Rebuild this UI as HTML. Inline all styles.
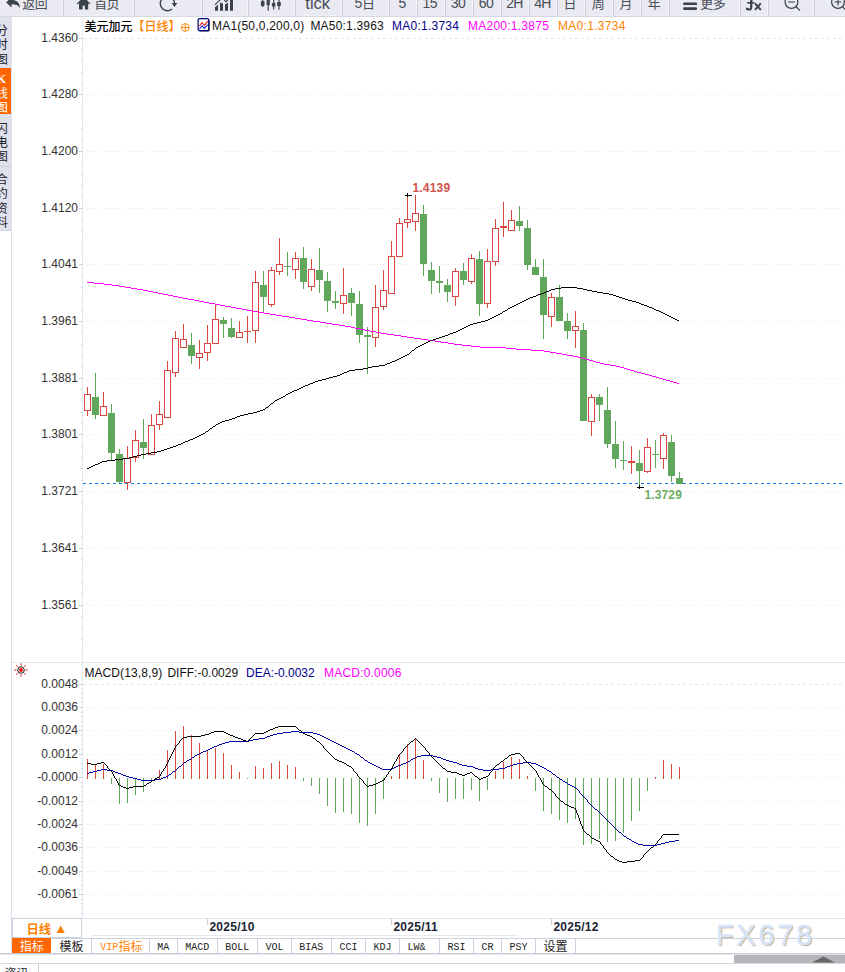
<!DOCTYPE html><html><head><meta charset="utf-8"><title>USDCAD</title><style>
html,body{margin:0;padding:0;background:#fff;}
body{width:845px;height:972px;overflow:hidden;position:relative;font-family:"Liberation Sans",sans-serif;}
.t{position:absolute;white-space:nowrap;line-height:16px;height:16px;}
svg{position:absolute;left:0;top:0;}
svg text{font-family:"Liberation Sans","Noto Sans CJK SC",sans-serif;}
</style></head><body>
<svg width="845" height="972" viewBox="0 0 845 972" shape-rendering="crispEdges"><rect x="0" y="17" width="12" height="213" fill="#E0E2EB"/><rect x="0" y="68" width="11" height="46" fill="#FF6600"/><rect x="11" y="68" width="1" height="47" fill="#D6E3F1"/><rect x="0" y="114" width="11" height="1" fill="#D6E3F1"/><line x1="0" y1="166.5" x2="12" y2="166.5" stroke="#D0D5E0"/><line x1="11.5" y1="230" x2="11.5" y2="954" stroke="#D9DEE8"/><line x1="0" y1="230.5" x2="12" y2="230.5" stroke="#D0D5E0"/><line x1="82.5" y1="16" x2="82.5" y2="919" stroke="#E3E8EF"/><line x1="12" y1="662.5" x2="845" y2="662.5" stroke="#E3EAF2"/><line x1="12" y1="918.5" x2="845" y2="918.5" stroke="#DDE3EC"/><line x1="83" y1="38.5" x2="845" y2="38.5" stroke="#E1EAF0" stroke-dasharray="3 3"/><line x1="79" y1="38.5" x2="82" y2="38.5" stroke="#C9D0DA"/><rect x="81" y="49" width="1" height="1" fill="#C9D0DA"/><rect x="81" y="60" width="1" height="1" fill="#C9D0DA"/><rect x="81" y="72" width="1" height="1" fill="#C9D0DA"/><rect x="81" y="83" width="1" height="1" fill="#C9D0DA"/><line x1="83" y1="94.5" x2="845" y2="94.5" stroke="#E9EBEF" stroke-dasharray="1 2"/><line x1="79" y1="94.5" x2="82" y2="94.5" stroke="#C9D0DA"/><rect x="81" y="106" width="1" height="1" fill="#C9D0DA"/><rect x="81" y="117" width="1" height="1" fill="#C9D0DA"/><rect x="81" y="128" width="1" height="1" fill="#C9D0DA"/><rect x="81" y="140" width="1" height="1" fill="#C9D0DA"/><line x1="83" y1="151.5" x2="845" y2="151.5" stroke="#E9EBEF" stroke-dasharray="1 2"/><line x1="79" y1="151.5" x2="82" y2="151.5" stroke="#C9D0DA"/><rect x="81" y="162" width="1" height="1" fill="#C9D0DA"/><rect x="81" y="174" width="1" height="1" fill="#C9D0DA"/><rect x="81" y="185" width="1" height="1" fill="#C9D0DA"/><rect x="81" y="196" width="1" height="1" fill="#C9D0DA"/><line x1="83" y1="208.5" x2="845" y2="208.5" stroke="#E9EBEF" stroke-dasharray="1 2"/><line x1="79" y1="208.5" x2="82" y2="208.5" stroke="#C9D0DA"/><rect x="81" y="219" width="1" height="1" fill="#C9D0DA"/><rect x="81" y="230" width="1" height="1" fill="#C9D0DA"/><rect x="81" y="242" width="1" height="1" fill="#C9D0DA"/><rect x="81" y="253" width="1" height="1" fill="#C9D0DA"/><line x1="83" y1="264.5" x2="845" y2="264.5" stroke="#E9EBEF" stroke-dasharray="1 2"/><line x1="79" y1="264.5" x2="82" y2="264.5" stroke="#C9D0DA"/><rect x="81" y="276" width="1" height="1" fill="#C9D0DA"/><rect x="81" y="287" width="1" height="1" fill="#C9D0DA"/><rect x="81" y="298" width="1" height="1" fill="#C9D0DA"/><rect x="81" y="310" width="1" height="1" fill="#C9D0DA"/><line x1="83" y1="321.5" x2="845" y2="321.5" stroke="#E9EBEF" stroke-dasharray="1 2"/><line x1="79" y1="321.5" x2="82" y2="321.5" stroke="#C9D0DA"/><rect x="81" y="332" width="1" height="1" fill="#C9D0DA"/><rect x="81" y="344" width="1" height="1" fill="#C9D0DA"/><rect x="81" y="355" width="1" height="1" fill="#C9D0DA"/><rect x="81" y="366" width="1" height="1" fill="#C9D0DA"/><line x1="83" y1="378.5" x2="845" y2="378.5" stroke="#E9EBEF" stroke-dasharray="1 2"/><line x1="79" y1="378.5" x2="82" y2="378.5" stroke="#C9D0DA"/><rect x="81" y="389" width="1" height="1" fill="#C9D0DA"/><rect x="81" y="400" width="1" height="1" fill="#C9D0DA"/><rect x="81" y="412" width="1" height="1" fill="#C9D0DA"/><rect x="81" y="423" width="1" height="1" fill="#C9D0DA"/><line x1="83" y1="434.5" x2="845" y2="434.5" stroke="#E9EBEF" stroke-dasharray="1 2"/><line x1="79" y1="434.5" x2="82" y2="434.5" stroke="#C9D0DA"/><rect x="81" y="446" width="1" height="1" fill="#C9D0DA"/><rect x="81" y="457" width="1" height="1" fill="#C9D0DA"/><rect x="81" y="468" width="1" height="1" fill="#C9D0DA"/><rect x="81" y="480" width="1" height="1" fill="#C9D0DA"/><line x1="83" y1="491.5" x2="845" y2="491.5" stroke="#E9EBEF" stroke-dasharray="1 2"/><line x1="79" y1="491.5" x2="82" y2="491.5" stroke="#C9D0DA"/><rect x="81" y="502" width="1" height="1" fill="#C9D0DA"/><rect x="81" y="514" width="1" height="1" fill="#C9D0DA"/><rect x="81" y="525" width="1" height="1" fill="#C9D0DA"/><rect x="81" y="536" width="1" height="1" fill="#C9D0DA"/><line x1="83" y1="548.5" x2="845" y2="548.5" stroke="#E9EBEF" stroke-dasharray="1 2"/><line x1="79" y1="548.5" x2="82" y2="548.5" stroke="#C9D0DA"/><rect x="81" y="559" width="1" height="1" fill="#C9D0DA"/><rect x="81" y="570" width="1" height="1" fill="#C9D0DA"/><rect x="81" y="582" width="1" height="1" fill="#C9D0DA"/><rect x="81" y="593" width="1" height="1" fill="#C9D0DA"/><line x1="83" y1="605.5" x2="845" y2="605.5" stroke="#E9EBEF" stroke-dasharray="1 2"/><line x1="79" y1="605.5" x2="82" y2="605.5" stroke="#C9D0DA"/><rect x="81" y="616" width="1" height="1" fill="#C9D0DA"/><rect x="81" y="627" width="1" height="1" fill="#C9D0DA"/><rect x="81" y="639" width="1" height="1" fill="#C9D0DA"/><rect x="81" y="650" width="1" height="1" fill="#C9D0DA"/><line x1="83" y1="684.5" x2="845" y2="684.5" stroke="#E1EAF0" stroke-dasharray="3 3"/><line x1="79" y1="684.5" x2="82" y2="684.5" stroke="#C9D0DA"/><rect x="81" y="688" width="1" height="1" fill="#C9D0DA"/><rect x="81" y="693" width="1" height="1" fill="#C9D0DA"/><rect x="81" y="698" width="1" height="1" fill="#C9D0DA"/><rect x="81" y="702" width="1" height="1" fill="#C9D0DA"/><line x1="83" y1="707.5" x2="845" y2="707.5" stroke="#E9EBEF" stroke-dasharray="1 2"/><line x1="79" y1="707.5" x2="82" y2="707.5" stroke="#C9D0DA"/><rect x="81" y="712" width="1" height="1" fill="#C9D0DA"/><rect x="81" y="716" width="1" height="1" fill="#C9D0DA"/><rect x="81" y="721" width="1" height="1" fill="#C9D0DA"/><rect x="81" y="726" width="1" height="1" fill="#C9D0DA"/><line x1="83" y1="730.5" x2="845" y2="730.5" stroke="#E9EBEF" stroke-dasharray="1 2"/><line x1="79" y1="730.5" x2="82" y2="730.5" stroke="#C9D0DA"/><rect x="81" y="735" width="1" height="1" fill="#C9D0DA"/><rect x="81" y="740" width="1" height="1" fill="#C9D0DA"/><rect x="81" y="744" width="1" height="1" fill="#C9D0DA"/><rect x="81" y="749" width="1" height="1" fill="#C9D0DA"/><line x1="83" y1="754.5" x2="845" y2="754.5" stroke="#E9EBEF" stroke-dasharray="1 2"/><line x1="79" y1="754.5" x2="82" y2="754.5" stroke="#C9D0DA"/><rect x="81" y="758" width="1" height="1" fill="#C9D0DA"/><rect x="81" y="763" width="1" height="1" fill="#C9D0DA"/><rect x="81" y="768" width="1" height="1" fill="#C9D0DA"/><rect x="81" y="772" width="1" height="1" fill="#C9D0DA"/><line x1="83" y1="777.5" x2="845" y2="777.5" stroke="#E9EBEF" stroke-dasharray="1 2"/><line x1="79" y1="777.5" x2="82" y2="777.5" stroke="#C9D0DA"/><rect x="81" y="782" width="1" height="1" fill="#C9D0DA"/><rect x="81" y="786" width="1" height="1" fill="#C9D0DA"/><rect x="81" y="791" width="1" height="1" fill="#C9D0DA"/><rect x="81" y="796" width="1" height="1" fill="#C9D0DA"/><line x1="83" y1="801.5" x2="845" y2="801.5" stroke="#E9EBEF" stroke-dasharray="1 2"/><line x1="79" y1="801.5" x2="82" y2="801.5" stroke="#C9D0DA"/><rect x="81" y="805" width="1" height="1" fill="#C9D0DA"/><rect x="81" y="810" width="1" height="1" fill="#C9D0DA"/><rect x="81" y="815" width="1" height="1" fill="#C9D0DA"/><rect x="81" y="819" width="1" height="1" fill="#C9D0DA"/><line x1="83" y1="824.5" x2="845" y2="824.5" stroke="#E9EBEF" stroke-dasharray="1 2"/><line x1="79" y1="824.5" x2="82" y2="824.5" stroke="#C9D0DA"/><rect x="81" y="829" width="1" height="1" fill="#C9D0DA"/><rect x="81" y="833" width="1" height="1" fill="#C9D0DA"/><rect x="81" y="838" width="1" height="1" fill="#C9D0DA"/><rect x="81" y="843" width="1" height="1" fill="#C9D0DA"/><line x1="83" y1="847.5" x2="845" y2="847.5" stroke="#E9EBEF" stroke-dasharray="1 2"/><line x1="79" y1="847.5" x2="82" y2="847.5" stroke="#C9D0DA"/><rect x="81" y="852" width="1" height="1" fill="#C9D0DA"/><rect x="81" y="857" width="1" height="1" fill="#C9D0DA"/><rect x="81" y="861" width="1" height="1" fill="#C9D0DA"/><rect x="81" y="866" width="1" height="1" fill="#C9D0DA"/><line x1="83" y1="871.5" x2="845" y2="871.5" stroke="#E9EBEF" stroke-dasharray="1 2"/><line x1="79" y1="871.5" x2="82" y2="871.5" stroke="#C9D0DA"/><rect x="81" y="875" width="1" height="1" fill="#C9D0DA"/><rect x="81" y="880" width="1" height="1" fill="#C9D0DA"/><rect x="81" y="885" width="1" height="1" fill="#C9D0DA"/><rect x="81" y="889" width="1" height="1" fill="#C9D0DA"/><line x1="83" y1="894.5" x2="845" y2="894.5" stroke="#E9EBEF" stroke-dasharray="1 2"/><line x1="79" y1="894.5" x2="82" y2="894.5" stroke="#C9D0DA"/><rect x="81" y="899" width="1" height="1" fill="#C9D0DA"/><rect x="81" y="903" width="1" height="1" fill="#C9D0DA"/><rect x="81" y="908" width="1" height="1" fill="#C9D0DA"/><rect x="81" y="913" width="1" height="1" fill="#C9D0DA"/><line x1="83" y1="483.5" x2="845" y2="483.5" stroke="#1080F0" stroke-dasharray="3 3"/><rect x="87" y="387" width="1" height="7" fill="#D9483E"/><rect x="87" y="411" width="1" height="5" fill="#D9483E"/><rect x="84" y="394" width="7" height="17" fill="#D9483E"/><rect x="85" y="395" width="5" height="15" fill="#fff"/><rect x="95" y="373" width="1" height="46" fill="#60A75C"/><rect x="92" y="397" width="7" height="18" fill="#60A75C"/><rect x="103" y="392" width="1" height="14" fill="#D9483E"/><rect x="100" y="406" width="7" height="10" fill="#D9483E"/><rect x="101" y="407" width="5" height="8" fill="#fff"/><rect x="111" y="404" width="1" height="56" fill="#60A75C"/><rect x="108" y="413" width="7" height="40" fill="#60A75C"/><rect x="119" y="449" width="1" height="34" fill="#60A75C"/><rect x="116" y="454" width="7" height="28" fill="#60A75C"/><rect x="127" y="446" width="1" height="12" fill="#D9483E"/><rect x="127" y="483" width="1" height="7" fill="#D9483E"/><rect x="124" y="458" width="7" height="25" fill="#D9483E"/><rect x="125" y="459" width="5" height="23" fill="#fff"/><rect x="135" y="430" width="1" height="10" fill="#D9483E"/><rect x="135" y="458" width="1" height="4" fill="#D9483E"/><rect x="132" y="440" width="7" height="18" fill="#D9483E"/><rect x="133" y="441" width="5" height="16" fill="#fff"/><rect x="143" y="419" width="1" height="40" fill="#60A75C"/><rect x="140" y="442" width="7" height="6" fill="#60A75C"/><rect x="151" y="414" width="1" height="11" fill="#D9483E"/><rect x="148" y="425" width="7" height="30" fill="#D9483E"/><rect x="149" y="426" width="5" height="28" fill="#fff"/><rect x="159" y="401" width="1" height="13" fill="#D9483E"/><rect x="159" y="425" width="1" height="5" fill="#D9483E"/><rect x="156" y="414" width="7" height="11" fill="#D9483E"/><rect x="157" y="415" width="5" height="9" fill="#fff"/><rect x="167" y="361" width="1" height="9" fill="#D9483E"/><rect x="164" y="370" width="7" height="48" fill="#D9483E"/><rect x="165" y="371" width="5" height="46" fill="#fff"/><rect x="175" y="331" width="1" height="7" fill="#D9483E"/><rect x="175" y="373" width="1" height="4" fill="#D9483E"/><rect x="172" y="338" width="7" height="35" fill="#D9483E"/><rect x="173" y="339" width="5" height="33" fill="#fff"/><rect x="183" y="324" width="1" height="15" fill="#D9483E"/><rect x="180" y="339" width="7" height="9" fill="#D9483E"/><rect x="181" y="340" width="5" height="7" fill="#fff"/><rect x="191" y="333" width="1" height="31" fill="#60A75C"/><rect x="188" y="345" width="7" height="11" fill="#60A75C"/><rect x="199" y="340" width="1" height="13" fill="#D9483E"/><rect x="199" y="358" width="1" height="11" fill="#D9483E"/><rect x="196" y="353" width="7" height="5" fill="#D9483E"/><rect x="197" y="354" width="5" height="3" fill="#fff"/><rect x="207" y="325" width="1" height="18" fill="#D9483E"/><rect x="207" y="353" width="1" height="8" fill="#D9483E"/><rect x="204" y="343" width="7" height="10" fill="#D9483E"/><rect x="205" y="344" width="5" height="8" fill="#fff"/><rect x="215" y="305" width="1" height="14" fill="#D9483E"/><rect x="212" y="319" width="7" height="25" fill="#D9483E"/><rect x="213" y="320" width="5" height="23" fill="#fff"/><rect x="223" y="317" width="1" height="21" fill="#60A75C"/><rect x="220" y="320" width="7" height="4" fill="#60A75C"/><rect x="231" y="318" width="1" height="20" fill="#60A75C"/><rect x="228" y="328" width="7" height="9" fill="#60A75C"/><rect x="239" y="321" width="1" height="11" fill="#D9483E"/><rect x="236" y="332" width="7" height="6" fill="#D9483E"/><rect x="237" y="333" width="5" height="4" fill="#fff"/><rect x="247" y="316" width="1" height="27" fill="#D9483E"/><rect x="244" y="331" width="7" height="1" fill="#D9483E"/><rect x="255" y="271" width="1" height="11" fill="#D9483E"/><rect x="255" y="331" width="1" height="12" fill="#D9483E"/><rect x="252" y="282" width="7" height="49" fill="#D9483E"/><rect x="253" y="283" width="5" height="47" fill="#fff"/><rect x="263" y="271" width="1" height="41" fill="#60A75C"/><rect x="260" y="285" width="7" height="12" fill="#60A75C"/><rect x="271" y="267" width="1" height="3" fill="#D9483E"/><rect x="271" y="305" width="1" height="2" fill="#D9483E"/><rect x="268" y="270" width="7" height="35" fill="#D9483E"/><rect x="269" y="271" width="5" height="33" fill="#fff"/><rect x="279" y="238" width="1" height="26" fill="#D9483E"/><rect x="279" y="272" width="1" height="3" fill="#D9483E"/><rect x="276" y="264" width="7" height="8" fill="#D9483E"/><rect x="277" y="265" width="5" height="6" fill="#fff"/><rect x="287" y="252" width="1" height="24" fill="#60A75C"/><rect x="284" y="266" width="7" height="1" fill="#60A75C"/><rect x="295" y="252" width="1" height="6" fill="#D9483E"/><rect x="295" y="270" width="1" height="9" fill="#D9483E"/><rect x="292" y="258" width="7" height="12" fill="#D9483E"/><rect x="293" y="259" width="5" height="10" fill="#fff"/><rect x="303" y="247" width="1" height="42" fill="#60A75C"/><rect x="300" y="258" width="7" height="24" fill="#60A75C"/><rect x="311" y="259" width="1" height="10" fill="#D9483E"/><rect x="311" y="287" width="1" height="4" fill="#D9483E"/><rect x="308" y="269" width="7" height="18" fill="#D9483E"/><rect x="309" y="270" width="5" height="16" fill="#fff"/><rect x="319" y="248" width="1" height="45" fill="#60A75C"/><rect x="316" y="270" width="7" height="10" fill="#60A75C"/><rect x="327" y="272" width="1" height="40" fill="#60A75C"/><rect x="324" y="281" width="7" height="20" fill="#60A75C"/><rect x="335" y="291" width="1" height="18" fill="#60A75C"/><rect x="332" y="301" width="7" height="2" fill="#60A75C"/><rect x="343" y="268" width="1" height="27" fill="#D9483E"/><rect x="343" y="304" width="1" height="10" fill="#D9483E"/><rect x="340" y="295" width="7" height="9" fill="#D9483E"/><rect x="341" y="296" width="5" height="7" fill="#fff"/><rect x="351" y="288" width="1" height="28" fill="#60A75C"/><rect x="348" y="293" width="7" height="10" fill="#60A75C"/><rect x="359" y="291" width="1" height="52" fill="#60A75C"/><rect x="356" y="304" width="7" height="31" fill="#60A75C"/><rect x="367" y="327" width="1" height="47" fill="#60A75C"/><rect x="364" y="335" width="7" height="2" fill="#60A75C"/><rect x="375" y="285" width="1" height="22" fill="#D9483E"/><rect x="375" y="338" width="1" height="9" fill="#D9483E"/><rect x="372" y="307" width="7" height="31" fill="#D9483E"/><rect x="373" y="308" width="5" height="29" fill="#fff"/><rect x="383" y="270" width="1" height="20" fill="#D9483E"/><rect x="383" y="307" width="1" height="3" fill="#D9483E"/><rect x="380" y="290" width="7" height="17" fill="#D9483E"/><rect x="381" y="291" width="5" height="15" fill="#fff"/><rect x="391" y="241" width="1" height="15" fill="#D9483E"/><rect x="388" y="256" width="7" height="38" fill="#D9483E"/><rect x="389" y="257" width="5" height="36" fill="#fff"/><rect x="399" y="218" width="1" height="5" fill="#D9483E"/><rect x="396" y="223" width="7" height="34" fill="#D9483E"/><rect x="397" y="224" width="5" height="32" fill="#fff"/><rect x="407" y="195" width="1" height="24" fill="#D9483E"/><rect x="407" y="223" width="1" height="5" fill="#D9483E"/><rect x="404" y="219" width="7" height="4" fill="#D9483E"/><rect x="405" y="220" width="5" height="2" fill="#fff"/><rect x="415" y="195" width="1" height="18" fill="#D9483E"/><rect x="415" y="222" width="1" height="9" fill="#D9483E"/><rect x="412" y="213" width="7" height="9" fill="#D9483E"/><rect x="413" y="214" width="5" height="7" fill="#fff"/><rect x="423" y="205" width="1" height="71" fill="#60A75C"/><rect x="420" y="214" width="7" height="50" fill="#60A75C"/><rect x="431" y="262" width="1" height="32" fill="#60A75C"/><rect x="428" y="270" width="7" height="11" fill="#60A75C"/><rect x="439" y="266" width="1" height="27" fill="#60A75C"/><rect x="436" y="281" width="7" height="2" fill="#60A75C"/><rect x="447" y="279" width="1" height="23" fill="#60A75C"/><rect x="444" y="285" width="7" height="7" fill="#60A75C"/><rect x="455" y="268" width="1" height="3" fill="#D9483E"/><rect x="455" y="297" width="1" height="9" fill="#D9483E"/><rect x="452" y="271" width="7" height="26" fill="#D9483E"/><rect x="453" y="272" width="5" height="24" fill="#fff"/><rect x="463" y="263" width="1" height="22" fill="#60A75C"/><rect x="460" y="271" width="7" height="9" fill="#60A75C"/><rect x="471" y="254" width="1" height="4" fill="#D9483E"/><rect x="471" y="282" width="1" height="2" fill="#D9483E"/><rect x="468" y="258" width="7" height="24" fill="#D9483E"/><rect x="469" y="259" width="5" height="22" fill="#fff"/><rect x="479" y="251" width="1" height="65" fill="#60A75C"/><rect x="476" y="259" width="7" height="45" fill="#60A75C"/><rect x="487" y="249" width="1" height="12" fill="#D9483E"/><rect x="487" y="304" width="1" height="4" fill="#D9483E"/><rect x="484" y="261" width="7" height="43" fill="#D9483E"/><rect x="485" y="262" width="5" height="41" fill="#fff"/><rect x="495" y="219" width="1" height="9" fill="#D9483E"/><rect x="495" y="262" width="1" height="4" fill="#D9483E"/><rect x="492" y="228" width="7" height="34" fill="#D9483E"/><rect x="493" y="229" width="5" height="32" fill="#fff"/><rect x="503" y="202" width="1" height="35" fill="#D9483E"/><rect x="500" y="226" width="7" height="2" fill="#D9483E"/><rect x="511" y="210" width="1" height="10" fill="#D9483E"/><rect x="508" y="220" width="7" height="11" fill="#D9483E"/><rect x="509" y="221" width="5" height="9" fill="#fff"/><rect x="519" y="206" width="1" height="25" fill="#60A75C"/><rect x="516" y="221" width="7" height="5" fill="#60A75C"/><rect x="527" y="220" width="1" height="50" fill="#60A75C"/><rect x="524" y="228" width="7" height="37" fill="#60A75C"/><rect x="535" y="259" width="1" height="16" fill="#60A75C"/><rect x="532" y="267" width="7" height="8" fill="#60A75C"/><rect x="543" y="259" width="1" height="80" fill="#60A75C"/><rect x="540" y="277" width="7" height="38" fill="#60A75C"/><rect x="551" y="293" width="1" height="4" fill="#D9483E"/><rect x="551" y="317" width="1" height="10" fill="#D9483E"/><rect x="548" y="297" width="7" height="20" fill="#D9483E"/><rect x="549" y="298" width="5" height="18" fill="#fff"/><rect x="559" y="285" width="1" height="36" fill="#60A75C"/><rect x="556" y="297" width="7" height="24" fill="#60A75C"/><rect x="567" y="313" width="1" height="26" fill="#60A75C"/><rect x="564" y="321" width="7" height="10" fill="#60A75C"/><rect x="575" y="311" width="1" height="15" fill="#D9483E"/><rect x="575" y="331" width="1" height="17" fill="#D9483E"/><rect x="572" y="326" width="7" height="5" fill="#D9483E"/><rect x="573" y="327" width="5" height="3" fill="#fff"/><rect x="583" y="323" width="1" height="98" fill="#60A75C"/><rect x="580" y="330" width="7" height="91" fill="#60A75C"/><rect x="591" y="394" width="1" height="3" fill="#D9483E"/><rect x="591" y="422" width="1" height="14" fill="#D9483E"/><rect x="588" y="397" width="7" height="25" fill="#D9483E"/><rect x="589" y="398" width="5" height="23" fill="#fff"/><rect x="599" y="394" width="1" height="27" fill="#60A75C"/><rect x="596" y="397" width="7" height="8" fill="#60A75C"/><rect x="607" y="387" width="1" height="61" fill="#60A75C"/><rect x="604" y="410" width="7" height="34" fill="#60A75C"/><rect x="615" y="421" width="1" height="47" fill="#60A75C"/><rect x="612" y="444" width="7" height="15" fill="#60A75C"/><rect x="623" y="441" width="1" height="29" fill="#60A75C"/><rect x="620" y="460" width="7" height="1" fill="#60A75C"/><rect x="631" y="446" width="1" height="28" fill="#D9483E"/><rect x="628" y="461" width="7" height="2" fill="#D9483E"/><rect x="639" y="450" width="1" height="37" fill="#60A75C"/><rect x="636" y="463" width="7" height="8" fill="#60A75C"/><rect x="647" y="438" width="1" height="9" fill="#D9483E"/><rect x="647" y="472" width="1" height="1" fill="#D9483E"/><rect x="644" y="447" width="7" height="25" fill="#D9483E"/><rect x="645" y="448" width="5" height="23" fill="#fff"/><rect x="655" y="440" width="1" height="28" fill="#60A75C"/><rect x="652" y="454" width="7" height="1" fill="#60A75C"/><rect x="663" y="433" width="1" height="2" fill="#D9483E"/><rect x="663" y="459" width="1" height="10" fill="#D9483E"/><rect x="660" y="435" width="7" height="24" fill="#D9483E"/><rect x="661" y="436" width="5" height="22" fill="#fff"/><rect x="671" y="435" width="1" height="47" fill="#60A75C"/><rect x="668" y="442" width="7" height="34" fill="#60A75C"/><rect x="679" y="472" width="1" height="12" fill="#60A75C"/><rect x="676" y="478" width="7" height="6" fill="#60A75C"/><path d="M87 282h7v1h-7zM94 283h10v1h-10zM104 284h8v1h-8zM112 285h7v1h-7zM119 286h6v1h-6zM125 287h6v1h-6zM131 288h6v1h-6zM137 289h6v1h-6zM143 290h5v1h-5zM148 291h5v1h-5zM153 292h5v1h-5zM158 293h5v1h-5zM163 294h5v1h-5zM168 295h5v1h-5zM173 296h5v1h-5zM178 297h5v1h-5zM183 298h5v1h-5zM188 299h6v1h-6zM194 300h5v1h-5zM199 301h5v1h-5zM204 302h5v1h-5zM209 303h6v1h-6zM215 304h5v1h-5zM220 305h5v1h-5zM225 306h6v1h-6zM231 307h5v1h-5zM236 308h6v1h-6zM242 309h5v1h-5zM247 310h6v1h-6zM253 311h5v1h-5zM258 312h6v1h-6zM264 313h6v1h-6zM270 314h6v1h-6zM276 315h6v1h-6zM282 316h7v1h-7zM289 317h6v1h-6zM295 318h6v1h-6zM301 319h6v1h-6zM307 320h6v1h-6zM313 321h7v1h-7zM320 322h6v1h-6zM326 323h6v1h-6zM332 324h7v1h-7zM339 325h6v1h-6zM345 326h6v1h-6zM351 327h4v1h-4zM355 328h5v1h-5zM360 329h5v1h-5zM365 330h5v1h-5zM370 331h6v1h-6zM376 332h5v1h-5zM381 333h6v1h-6zM387 334h7v1h-7zM394 335h7v1h-7zM401 336h6v1h-6zM407 337h7v1h-7zM414 338h7v1h-7zM421 339h7v1h-7zM428 340h7v1h-7zM435 341h6v1h-6zM441 342h7v1h-7zM448 343h6v1h-6zM454 344h8v1h-8zM462 345h9v1h-9zM471 346h9v1h-9zM480 347h26v1h-26zM506 348h10v1h-10zM516 349h15v1h-15zM531 350h13v1h-13zM544 351h6v1h-6zM550 352h6v1h-6zM556 353h6v1h-6zM562 354h5v1h-5zM567 355h6v1h-6zM573 356h5v1h-5zM578 357h4v1h-4zM582 358h4v1h-4zM586 359h3v1h-3zM589 360h4v1h-4zM593 361h3v1h-3zM596 362h4v1h-4zM600 363h4v1h-4zM604 364h6v1h-6zM610 365h6v1h-6zM616 366h4v1h-4zM620 367h4v1h-4zM624 368h3v1h-3zM627 369h3v1h-3zM630 370h4v1h-4zM634 371h3v1h-3zM637 372h4v1h-4zM641 373h4v1h-4zM645 374h4v1h-4zM649 375h3v1h-3zM652 376h4v1h-4zM656 377h3v1h-3zM659 378h4v1h-4zM663 379h3v1h-3zM666 380h4v1h-4zM670 381h3v1h-3zM673 382h4v1h-4zM677 383h2v1h-2z" fill="#FF00FF"/><path d="M561 287h16v1h-16zM555 288h6v1h-6zM577 288h6v1h-6zM551 289h4v1h-4zM583 289h4v1h-4zM549 290h2v1h-2zM587 290h5v1h-5zM546 291h3v1h-3zM592 291h5v1h-5zM544 292h2v1h-2zM597 292h6v1h-6zM541 293h3v1h-3zM603 293h6v1h-6zM538 294h3v1h-3zM609 294h4v1h-4zM536 295h2v1h-2zM613 295h3v1h-3zM533 296h3v1h-3zM616 296h3v1h-3zM530 297h3v1h-3zM619 297h3v1h-3zM528 298h2v1h-2zM622 298h3v1h-3zM526 299h2v1h-2zM625 299h3v1h-3zM524 300h2v1h-2zM628 300h4v1h-4zM522 301h2v1h-2zM632 301h4v1h-4zM520 302h2v1h-2zM636 302h3v1h-3zM518 303h2v1h-2zM639 303h2v1h-2zM516 304h2v1h-2zM641 304h3v1h-3zM514 305h2v1h-2zM644 305h3v1h-3zM512 306h2v1h-2zM647 306h2v1h-2zM510 307h2v1h-2zM649 307h3v1h-3zM508 308h2v1h-2zM652 308h2v1h-2zM507 309h1v1h-1zM654 309h2v1h-2zM505 310h2v1h-2zM656 310h3v1h-3zM503 311h2v1h-2zM659 311h2v1h-2zM502 312h1v1h-1zM661 312h2v1h-2zM500 313h2v1h-2zM663 313h2v1h-2zM498 314h2v1h-2zM665 314h2v1h-2zM496 315h2v1h-2zM667 315h2v1h-2zM494 316h2v1h-2zM669 316h2v1h-2zM492 317h2v1h-2zM671 317h2v1h-2zM490 318h2v1h-2zM673 318h2v1h-2zM488 319h2v1h-2zM675 319h2v1h-2zM485 320h3v1h-3zM677 320h2v1h-2zM481 321h4v1h-4zM477 322h4v1h-4zM473 323h4v1h-4zM470 324h3v1h-3zM468 325h2v1h-2zM466 326h2v1h-2zM464 327h2v1h-2zM462 328h2v1h-2zM460 329h2v1h-2zM458 330h2v1h-2zM456 331h2v1h-2zM453 332h3v1h-3zM450 333h3v1h-3zM448 334h2v1h-2zM445 335h3v1h-3zM442 336h3v1h-3zM439 337h3v1h-3zM436 338h3v1h-3zM433 339h3v1h-3zM430 340h3v1h-3zM428 341h2v1h-2zM426 342h2v1h-2zM424 343h2v1h-2zM422 344h2v1h-2zM420 345h2v1h-2zM418 346h2v1h-2zM416 347h2v1h-2zM415 348h1v1h-1zM414 349h1v1h-1zM412 350h2v1h-2zM411 351h1v1h-1zM410 352h1v1h-1zM409 353h1v1h-1zM407 354h2v1h-2zM405 355h2v1h-2zM403 356h2v1h-2zM401 357h2v1h-2zM399 358h2v1h-2zM397 359h2v1h-2zM395 360h2v1h-2zM392 361h3v1h-3zM390 362h2v1h-2zM387 363h3v1h-3zM385 364h2v1h-2zM379 365h6v1h-6zM372 366h7v1h-7zM368 367h4v1h-4zM363 368h5v1h-5zM355 369h8v1h-8zM349 370h6v1h-6zM347 371h2v1h-2zM344 372h3v1h-3zM342 373h2v1h-2zM340 374h2v1h-2zM337 375h3v1h-3zM333 376h4v1h-4zM329 377h4v1h-4zM326 378h3v1h-3zM322 379h4v1h-4zM318 380h4v1h-4zM315 381h3v1h-3zM313 382h2v1h-2zM310 383h3v1h-3zM308 384h2v1h-2zM305 385h3v1h-3zM303 386h2v1h-2zM301 387h2v1h-2zM299 388h2v1h-2zM297 389h2v1h-2zM294 390h3v1h-3zM292 391h2v1h-2zM290 392h2v1h-2zM288 393h2v1h-2zM286 394h2v1h-2zM285 395h1v1h-1zM283 396h2v1h-2zM281 397h2v1h-2zM279 398h2v1h-2zM277 399h2v1h-2zM275 400h2v1h-2zM274 401h1v1h-1zM273 402h1v1h-1zM271 403h2v1h-2zM270 404h1v1h-1zM269 405h1v1h-1zM268 406h1v1h-1zM266 407h2v1h-2zM265 408h1v1h-1zM263 409h2v1h-2zM260 410h3v1h-3zM257 411h3v1h-3zM253 412h4v1h-4zM248 413h5v1h-5zM244 414h4v1h-4zM240 415h4v1h-4zM237 416h3v1h-3zM235 417h2v1h-2zM232 418h3v1h-3zM229 419h3v1h-3zM225 420h4v1h-4zM222 421h3v1h-3zM220 422h2v1h-2zM218 423h2v1h-2zM216 424h2v1h-2zM215 425h1v1h-1zM213 426h2v1h-2zM212 427h1v1h-1zM210 428h2v1h-2zM209 429h1v1h-1zM208 430h1v1h-1zM206 431h2v1h-2zM205 432h1v1h-1zM203 433h2v1h-2zM201 434h2v1h-2zM199 435h2v1h-2zM197 436h2v1h-2zM195 437h2v1h-2zM193 438h2v1h-2zM190 439h3v1h-3zM188 440h2v1h-2zM185 441h3v1h-3zM183 442h2v1h-2zM181 443h2v1h-2zM178 444h3v1h-3zM176 445h2v1h-2zM173 446h3v1h-3zM170 447h3v1h-3zM167 448h3v1h-3zM164 449h3v1h-3zM161 450h3v1h-3zM157 451h4v1h-4zM151 452h6v1h-6zM146 453h5v1h-5zM141 454h5v1h-5zM137 455h4v1h-4zM133 456h4v1h-4zM129 457h4v1h-4zM123 458h6v1h-6zM115 459h8v1h-8zM107 460h8v1h-8zM102 461h5v1h-5zM100 462h2v1h-2zM98 463h2v1h-2zM95 464h3v1h-3zM93 465h2v1h-2zM91 466h2v1h-2zM89 467h2v1h-2zM87 468h2v1h-2z" fill="#000"/><rect x="405" y="195" width="7" height="1" fill="#000"/><rect x="407" y="193" width="1" height="4" fill="#000"/><rect x="637" y="487" width="7" height="1" fill="#000"/><rect x="639" y="485" width="1" height="4" fill="#000"/><rect x="87" y="759" width="1" height="20" fill="#D9483E"/><rect x="95" y="764" width="1" height="15" fill="#D9483E"/><rect x="103" y="764" width="1" height="15" fill="#D9483E"/><rect x="111" y="778" width="1" height="6" fill="#60A75C"/><rect x="119" y="778" width="1" height="26" fill="#60A75C"/><rect x="127" y="778" width="1" height="25" fill="#60A75C"/><rect x="135" y="778" width="1" height="17" fill="#60A75C"/><rect x="143" y="778" width="1" height="14" fill="#60A75C"/><rect x="151" y="778" width="1" height="4" fill="#60A75C"/><rect x="159" y="770" width="1" height="9" fill="#D9483E"/><rect x="167" y="750" width="1" height="29" fill="#D9483E"/><rect x="175" y="731" width="1" height="48" fill="#D9483E"/><rect x="183" y="726" width="1" height="53" fill="#D9483E"/><rect x="191" y="735" width="1" height="44" fill="#D9483E"/><rect x="199" y="743" width="1" height="36" fill="#D9483E"/><rect x="207" y="750" width="1" height="29" fill="#D9483E"/><rect x="215" y="748" width="1" height="31" fill="#D9483E"/><rect x="223" y="753" width="1" height="26" fill="#D9483E"/><rect x="231" y="765" width="1" height="14" fill="#D9483E"/><rect x="239" y="772" width="1" height="7" fill="#D9483E"/><rect x="247" y="778" width="1" height="1" fill="#60A75C"/><rect x="255" y="766" width="1" height="13" fill="#D9483E"/><rect x="263" y="768" width="1" height="11" fill="#D9483E"/><rect x="271" y="763" width="1" height="16" fill="#D9483E"/><rect x="279" y="761" width="1" height="18" fill="#D9483E"/><rect x="287" y="765" width="1" height="14" fill="#D9483E"/><rect x="295" y="767" width="1" height="12" fill="#D9483E"/><rect x="303" y="778" width="1" height="3" fill="#60A75C"/><rect x="311" y="778" width="1" height="8" fill="#60A75C"/><rect x="319" y="778" width="1" height="16" fill="#60A75C"/><rect x="327" y="778" width="1" height="28" fill="#60A75C"/><rect x="335" y="778" width="1" height="35" fill="#60A75C"/><rect x="343" y="778" width="1" height="34" fill="#60A75C"/><rect x="351" y="778" width="1" height="36" fill="#60A75C"/><rect x="359" y="778" width="1" height="45" fill="#60A75C"/><rect x="367" y="778" width="1" height="48" fill="#60A75C"/><rect x="375" y="778" width="1" height="36" fill="#60A75C"/><rect x="383" y="778" width="1" height="21" fill="#60A75C"/><rect x="391" y="776" width="1" height="3" fill="#D9483E"/><rect x="399" y="755" width="1" height="24" fill="#D9483E"/><rect x="407" y="744" width="1" height="35" fill="#D9483E"/><rect x="415" y="739" width="1" height="40" fill="#D9483E"/><rect x="423" y="760" width="1" height="19" fill="#D9483E"/><rect x="431" y="778" width="1" height="3" fill="#60A75C"/><rect x="439" y="778" width="1" height="15" fill="#60A75C"/><rect x="447" y="778" width="1" height="24" fill="#60A75C"/><rect x="455" y="778" width="1" height="21" fill="#60A75C"/><rect x="463" y="778" width="1" height="21" fill="#60A75C"/><rect x="471" y="778" width="1" height="12" fill="#60A75C"/><rect x="479" y="778" width="1" height="23" fill="#60A75C"/><rect x="487" y="778" width="1" height="12" fill="#60A75C"/><rect x="495" y="771" width="1" height="8" fill="#D9483E"/><rect x="503" y="762" width="1" height="17" fill="#D9483E"/><rect x="511" y="757" width="1" height="22" fill="#D9483E"/><rect x="519" y="759" width="1" height="20" fill="#D9483E"/><rect x="527" y="776" width="1" height="3" fill="#D9483E"/><rect x="535" y="778" width="1" height="13" fill="#60A75C"/><rect x="543" y="778" width="1" height="33" fill="#60A75C"/><rect x="551" y="778" width="1" height="36" fill="#60A75C"/><rect x="559" y="778" width="1" height="42" fill="#60A75C"/><rect x="567" y="778" width="1" height="45" fill="#60A75C"/><rect x="575" y="778" width="1" height="41" fill="#60A75C"/><rect x="583" y="778" width="1" height="67" fill="#60A75C"/><rect x="591" y="778" width="1" height="66" fill="#60A75C"/><rect x="599" y="778" width="1" height="61" fill="#60A75C"/><rect x="607" y="778" width="1" height="64" fill="#60A75C"/><rect x="615" y="778" width="1" height="63" fill="#60A75C"/><rect x="623" y="778" width="1" height="55" fill="#60A75C"/><rect x="631" y="778" width="1" height="43" fill="#60A75C"/><rect x="639" y="778" width="1" height="33" fill="#60A75C"/><rect x="647" y="778" width="1" height="13" fill="#60A75C"/><rect x="655" y="777" width="1" height="2" fill="#D9483E"/><rect x="663" y="760" width="1" height="19" fill="#D9483E"/><rect x="671" y="764" width="1" height="15" fill="#D9483E"/><rect x="679" y="767" width="1" height="12" fill="#D9483E"/><path d="M291 731h8v1h-8zM283 732h8v1h-8zM299 732h14v1h-14zM277 733h6v1h-6zM313 733h4v1h-4zM273 734h4v1h-4zM317 734h3v1h-3zM270 735h3v1h-3zM320 735h2v1h-2zM267 736h3v1h-3zM322 736h2v1h-2zM265 737h2v1h-2zM324 737h2v1h-2zM259 738h6v1h-6zM326 738h2v1h-2zM253 739h6v1h-6zM328 739h2v1h-2zM249 740h4v1h-4zM330 740h2v1h-2zM229 741h20v1h-20zM332 741h2v1h-2zM225 742h4v1h-4zM334 742h2v1h-2zM222 743h3v1h-3zM336 743h2v1h-2zM219 744h3v1h-3zM338 744h2v1h-2zM217 745h2v1h-2zM340 745h2v1h-2zM214 746h3v1h-3zM342 746h2v1h-2zM212 747h2v1h-2zM344 747h2v1h-2zM210 748h2v1h-2zM346 748h2v1h-2zM208 749h2v1h-2zM348 749h2v1h-2zM206 750h2v1h-2zM350 750h2v1h-2zM203 751h3v1h-3zM352 751h2v1h-2zM201 752h2v1h-2zM354 752h1v1h-1zM199 753h2v1h-2zM355 753h2v1h-2zM197 754h2v1h-2zM357 754h2v1h-2zM195 755h2v1h-2zM359 755h1v1h-1zM421 755h12v1h-12zM194 756h1v1h-1zM360 756h1v1h-1zM417 756h4v1h-4zM433 756h4v1h-4zM192 757h2v1h-2zM361 757h2v1h-2zM415 757h2v1h-2zM437 757h4v1h-4zM191 758h1v1h-1zM363 758h1v1h-1zM413 758h2v1h-2zM441 758h2v1h-2zM189 759h2v1h-2zM364 759h1v1h-1zM411 759h2v1h-2zM443 759h3v1h-3zM187 760h2v1h-2zM365 760h2v1h-2zM410 760h1v1h-1zM446 760h3v1h-3zM186 761h1v1h-1zM367 761h1v1h-1zM408 761h2v1h-2zM449 761h4v1h-4zM184 762h2v1h-2zM368 762h2v1h-2zM406 762h2v1h-2zM453 762h4v1h-4zM523 762h8v1h-8zM183 763h1v1h-1zM370 763h2v1h-2zM403 763h3v1h-3zM457 763h2v1h-2zM517 763h6v1h-6zM531 763h5v1h-5zM182 764h1v1h-1zM372 764h2v1h-2zM401 764h2v1h-2zM459 764h3v1h-3zM513 764h4v1h-4zM536 764h2v1h-2zM181 765h1v1h-1zM374 765h2v1h-2zM398 765h3v1h-3zM462 765h5v1h-5zM510 765h3v1h-3zM538 765h2v1h-2zM179 766h2v1h-2zM376 766h2v1h-2zM396 766h2v1h-2zM467 766h6v1h-6zM507 766h3v1h-3zM540 766h2v1h-2zM178 767h1v1h-1zM378 767h2v1h-2zM394 767h2v1h-2zM473 767h2v1h-2zM505 767h2v1h-2zM542 767h2v1h-2zM177 768h1v1h-1zM380 768h2v1h-2zM392 768h2v1h-2zM475 768h3v1h-3zM499 768h6v1h-6zM544 768h2v1h-2zM101 769h6v1h-6zM176 769h1v1h-1zM382 769h10v1h-10zM478 769h5v1h-5zM491 769h8v1h-8zM546 769h1v1h-1zM97 770h4v1h-4zM107 770h6v1h-6zM175 770h1v1h-1zM483 770h8v1h-8zM547 770h2v1h-2zM93 771h4v1h-4zM113 771h2v1h-2zM173 771h2v1h-2zM549 771h2v1h-2zM89 772h4v1h-4zM115 772h3v1h-3zM172 772h1v1h-1zM551 772h1v1h-1zM87 773h2v1h-2zM118 773h3v1h-3zM171 773h1v1h-1zM552 773h1v1h-1zM121 774h2v1h-2zM169 774h2v1h-2zM553 774h2v1h-2zM123 775h3v1h-3zM168 775h1v1h-1zM555 775h1v1h-1zM126 776h3v1h-3zM166 776h2v1h-2zM556 776h1v1h-1zM129 777h4v1h-4zM163 777h3v1h-3zM557 777h2v1h-2zM133 778h4v1h-4zM161 778h2v1h-2zM559 778h1v1h-1zM137 779h4v1h-4zM155 779h6v1h-6zM560 779h2v1h-2zM141 780h14v1h-14zM562 780h1v1h-1zM563 781h2v1h-2zM565 782h2v1h-2zM567 783h1v1h-1zM568 784h2v1h-2zM570 785h2v1h-2zM572 786h2v1h-2zM574 787h2v1h-2zM576 788h1v1h-1zM577 789h1v1h-1zM578 790h1v1h-1zM579 791h1v1h-1zM579 792h1v1h-1zM580 793h1v1h-1zM581 794h1v1h-1zM582 795h1v1h-1zM583 796h1v1h-1zM584 797h1v1h-1zM585 798h1v1h-1zM586 799h1v1h-1zM587 800h1v1h-1zM587 801h1v1h-1zM588 802h1v1h-1zM589 803h1v1h-1zM590 804h1v1h-1zM591 805h1v1h-1zM592 806h1v1h-1zM593 807h1v1h-1zM594 808h1v1h-1zM595 809h2v1h-2zM597 810h1v1h-1zM598 811h1v1h-1zM599 812h1v1h-1zM600 813h1v1h-1zM601 814h1v1h-1zM602 815h1v1h-1zM603 816h1v1h-1zM604 817h1v1h-1zM605 818h1v1h-1zM606 819h1v1h-1zM607 820h1v1h-1zM608 821h1v1h-1zM609 822h1v1h-1zM610 823h1v1h-1zM611 824h1v1h-1zM612 825h1v1h-1zM613 826h1v1h-1zM614 827h1v1h-1zM615 828h1v1h-1zM616 829h1v1h-1zM617 830h1v1h-1zM618 831h1v1h-1zM619 832h2v1h-2zM621 833h1v1h-1zM622 834h1v1h-1zM623 835h1v1h-1zM624 836h2v1h-2zM626 837h1v1h-1zM627 838h2v1h-2zM629 839h2v1h-2zM631 840h1v1h-1zM675 840h4v1h-4zM632 841h2v1h-2zM669 841h6v1h-6zM634 842h2v1h-2zM665 842h4v1h-4zM636 843h2v1h-2zM661 843h4v1h-4zM638 844h5v1h-5zM657 844h4v1h-4zM643 845h14v1h-14z" fill="#0000A0"/><path d="M278 726h18v1h-18zM275 727h3v1h-3zM296 727h1v1h-1zM273 728h2v1h-2zM297 728h1v1h-1zM270 729h3v1h-3zM298 729h1v1h-1zM268 730h2v1h-2zM299 730h2v1h-2zM214 731h10v1h-10zM266 731h2v1h-2zM301 731h1v1h-1zM211 732h3v1h-3zM224 732h2v1h-2zM264 732h2v1h-2zM302 732h1v1h-1zM209 733h2v1h-2zM226 733h2v1h-2zM255 733h9v1h-9zM303 733h2v1h-2zM205 734h4v1h-4zM228 734h2v1h-2zM254 734h1v1h-1zM305 734h2v1h-2zM201 735h4v1h-4zM230 735h3v1h-3zM253 735h1v1h-1zM307 735h3v1h-3zM187 736h14v1h-14zM233 736h2v1h-2zM252 736h1v1h-1zM310 736h2v1h-2zM183 737h4v1h-4zM235 737h3v1h-3zM251 737h1v1h-1zM312 737h1v1h-1zM182 738h1v1h-1zM238 738h3v1h-3zM250 738h1v1h-1zM313 738h2v1h-2zM415 738h1v1h-1zM181 739h1v1h-1zM241 739h2v1h-2zM249 739h1v1h-1zM315 739h1v1h-1zM414 739h1v1h-1zM416 739h1v1h-1zM180 740h1v1h-1zM243 740h3v1h-3zM248 740h1v1h-1zM316 740h1v1h-1zM413 740h1v1h-1zM417 740h1v1h-1zM179 741h1v1h-1zM246 741h2v1h-2zM317 741h2v1h-2zM411 741h2v1h-2zM418 741h1v1h-1zM179 742h1v1h-1zM319 742h1v1h-1zM410 742h1v1h-1zM419 742h1v1h-1zM178 743h1v1h-1zM320 743h1v1h-1zM409 743h1v1h-1zM420 743h1v1h-1zM177 744h1v1h-1zM321 744h1v1h-1zM408 744h1v1h-1zM421 744h1v1h-1zM176 745h1v1h-1zM322 745h1v1h-1zM407 745h1v1h-1zM422 745h1v1h-1zM175 746h1v1h-1zM323 746h1v1h-1zM406 746h1v1h-1zM423 746h1v1h-1zM175 747h1v1h-1zM323 747h1v1h-1zM405 747h1v1h-1zM424 747h1v1h-1zM174 748h1v1h-1zM324 748h1v1h-1zM404 748h1v1h-1zM425 748h1v1h-1zM174 749h1v1h-1zM325 749h1v1h-1zM403 749h1v1h-1zM425 749h1v1h-1zM173 750h1v1h-1zM326 750h1v1h-1zM403 750h1v1h-1zM426 750h1v1h-1zM173 751h1v1h-1zM327 751h1v1h-1zM402 751h1v1h-1zM427 751h1v1h-1zM172 752h1v1h-1zM328 752h1v1h-1zM401 752h1v1h-1zM428 752h1v1h-1zM172 753h1v1h-1zM329 753h1v1h-1zM400 753h1v1h-1zM429 753h1v1h-1zM515 753h5v1h-5zM171 754h1v1h-1zM330 754h1v1h-1zM399 754h1v1h-1zM429 754h1v1h-1zM511 754h4v1h-4zM520 754h1v1h-1zM171 755h1v1h-1zM331 755h1v1h-1zM398 755h1v1h-1zM430 755h1v1h-1zM509 755h2v1h-2zM521 755h1v1h-1zM170 756h1v1h-1zM332 756h1v1h-1zM398 756h1v1h-1zM431 756h1v1h-1zM508 756h1v1h-1zM522 756h1v1h-1zM170 757h1v1h-1zM333 757h1v1h-1zM397 757h1v1h-1zM432 757h1v1h-1zM507 757h1v1h-1zM523 757h1v1h-1zM169 758h1v1h-1zM334 758h1v1h-1zM397 758h1v1h-1zM433 758h1v1h-1zM505 758h2v1h-2zM523 758h1v1h-1zM169 759h1v1h-1zM335 759h2v1h-2zM396 759h1v1h-1zM434 759h1v1h-1zM504 759h1v1h-1zM524 759h1v1h-1zM168 760h1v1h-1zM337 760h2v1h-2zM396 760h1v1h-1zM435 760h1v1h-1zM503 760h1v1h-1zM525 760h1v1h-1zM168 761h1v1h-1zM339 761h3v1h-3zM395 761h1v1h-1zM436 761h1v1h-1zM501 761h2v1h-2zM526 761h1v1h-1zM101 762h3v1h-3zM167 762h1v1h-1zM342 762h2v1h-2zM394 762h1v1h-1zM437 762h1v1h-1zM500 762h1v1h-1zM527 762h1v1h-1zM87 763h4v1h-4zM97 763h4v1h-4zM104 763h1v1h-1zM167 763h1v1h-1zM344 763h2v1h-2zM394 763h1v1h-1zM438 763h1v1h-1zM499 763h1v1h-1zM528 763h1v1h-1zM91 764h6v1h-6zM105 764h1v1h-1zM166 764h1v1h-1zM346 764h1v1h-1zM393 764h1v1h-1zM439 764h1v1h-1zM497 764h2v1h-2zM529 764h1v1h-1zM106 765h1v1h-1zM166 765h1v1h-1zM347 765h2v1h-2zM393 765h1v1h-1zM440 765h1v1h-1zM496 765h1v1h-1zM530 765h1v1h-1zM107 766h1v1h-1zM165 766h1v1h-1zM349 766h2v1h-2zM392 766h1v1h-1zM441 766h1v1h-1zM495 766h1v1h-1zM531 766h1v1h-1zM107 767h1v1h-1zM165 767h1v1h-1zM351 767h1v1h-1zM392 767h1v1h-1zM442 767h1v1h-1zM494 767h1v1h-1zM532 767h1v1h-1zM108 768h1v1h-1zM164 768h1v1h-1zM352 768h1v1h-1zM391 768h1v1h-1zM443 768h2v1h-2zM493 768h1v1h-1zM533 768h1v1h-1zM109 769h1v1h-1zM163 769h1v1h-1zM353 769h1v1h-1zM390 769h1v1h-1zM445 769h1v1h-1zM493 769h1v1h-1zM534 769h1v1h-1zM110 770h1v1h-1zM163 770h1v1h-1zM353 770h1v1h-1zM390 770h1v1h-1zM446 770h1v1h-1zM492 770h1v1h-1zM535 770h1v1h-1zM111 771h1v1h-1zM162 771h1v1h-1zM354 771h1v1h-1zM389 771h1v1h-1zM447 771h4v1h-4zM491 771h1v1h-1zM536 771h1v1h-1zM112 772h1v1h-1zM161 772h1v1h-1zM355 772h1v1h-1zM388 772h1v1h-1zM451 772h6v1h-6zM470 772h2v1h-2zM490 772h1v1h-1zM536 772h1v1h-1zM112 773h1v1h-1zM161 773h1v1h-1zM356 773h1v1h-1zM388 773h1v1h-1zM457 773h2v1h-2zM467 773h3v1h-3zM472 773h1v1h-1zM489 773h1v1h-1zM537 773h1v1h-1zM113 774h1v1h-1zM160 774h1v1h-1zM357 774h1v1h-1zM387 774h1v1h-1zM459 774h3v1h-3zM465 774h2v1h-2zM473 774h1v1h-1zM489 774h1v1h-1zM537 774h1v1h-1zM113 775h1v1h-1zM160 775h1v1h-1zM357 775h1v1h-1zM386 775h1v1h-1zM462 775h3v1h-3zM474 775h1v1h-1zM488 775h1v1h-1zM538 775h1v1h-1zM114 776h1v1h-1zM159 776h1v1h-1zM358 776h1v1h-1zM386 776h1v1h-1zM475 776h2v1h-2zM486 776h2v1h-2zM538 776h1v1h-1zM114 777h1v1h-1zM157 777h2v1h-2zM359 777h1v1h-1zM385 777h1v1h-1zM477 777h1v1h-1zM483 777h3v1h-3zM539 777h1v1h-1zM115 778h1v1h-1zM155 778h2v1h-2zM360 778h1v1h-1zM384 778h1v1h-1zM478 778h1v1h-1zM481 778h2v1h-2zM540 778h1v1h-1zM116 779h1v1h-1zM154 779h1v1h-1zM361 779h1v1h-1zM384 779h1v1h-1zM479 779h2v1h-2zM540 779h1v1h-1zM116 780h1v1h-1zM152 780h2v1h-2zM362 780h1v1h-1zM382 780h2v1h-2zM541 780h1v1h-1zM117 781h1v1h-1zM151 781h1v1h-1zM363 781h1v1h-1zM380 781h2v1h-2zM541 781h1v1h-1zM117 782h1v1h-1zM149 782h2v1h-2zM363 782h1v1h-1zM378 782h2v1h-2zM542 782h1v1h-1zM118 783h1v1h-1zM147 783h2v1h-2zM364 783h1v1h-1zM376 783h2v1h-2zM542 783h1v1h-1zM118 784h1v1h-1zM146 784h1v1h-1zM365 784h1v1h-1zM373 784h3v1h-3zM543 784h1v1h-1zM119 785h2v1h-2zM144 785h2v1h-2zM366 785h1v1h-1zM369 785h4v1h-4zM544 785h1v1h-1zM121 786h2v1h-2zM133 786h11v1h-11zM367 786h2v1h-2zM545 786h2v1h-2zM123 787h3v1h-3zM129 787h4v1h-4zM547 787h1v1h-1zM126 788h3v1h-3zM548 788h1v1h-1zM549 789h2v1h-2zM551 790h1v1h-1zM552 791h1v1h-1zM553 792h1v1h-1zM554 793h1v1h-1zM555 794h1v1h-1zM555 795h1v1h-1zM556 796h1v1h-1zM557 797h1v1h-1zM558 798h1v1h-1zM559 799h1v1h-1zM560 800h1v1h-1zM561 801h2v1h-2zM563 802h1v1h-1zM564 803h1v1h-1zM565 804h2v1h-2zM567 805h2v1h-2zM569 806h2v1h-2zM571 807h3v1h-3zM574 808h2v1h-2zM575 809h1v1h-1zM576 810h1v1h-1zM576 811h1v1h-1zM576 812h1v1h-1zM577 813h1v1h-1zM577 814h1v1h-1zM578 815h1v1h-1zM578 816h1v1h-1zM578 817h1v1h-1zM579 818h1v1h-1zM579 819h1v1h-1zM579 820h1v1h-1zM580 821h1v1h-1zM580 822h1v1h-1zM580 823h1v1h-1zM581 824h1v1h-1zM581 825h1v1h-1zM582 826h1v1h-1zM582 827h1v1h-1zM582 828h1v1h-1zM583 829h1v1h-1zM583 830h1v1h-1zM584 831h1v1h-1zM585 832h1v1h-1zM586 833h1v1h-1zM587 834h2v1h-2zM663 834h16v1h-16zM589 835h1v1h-1zM662 835h1v1h-1zM590 836h1v1h-1zM661 836h1v1h-1zM591 837h1v1h-1zM661 837h1v1h-1zM592 838h2v1h-2zM660 838h1v1h-1zM594 839h2v1h-2zM659 839h1v1h-1zM596 840h2v1h-2zM658 840h1v1h-1zM598 841h2v1h-2zM657 841h1v1h-1zM600 842h1v1h-1zM657 842h1v1h-1zM600 843h1v1h-1zM656 843h1v1h-1zM601 844h1v1h-1zM655 844h1v1h-1zM602 845h1v1h-1zM654 845h1v1h-1zM603 846h1v1h-1zM653 846h1v1h-1zM603 847h1v1h-1zM651 847h2v1h-2zM604 848h1v1h-1zM650 848h1v1h-1zM605 849h1v1h-1zM649 849h1v1h-1zM606 850h1v1h-1zM648 850h1v1h-1zM606 851h1v1h-1zM647 851h1v1h-1zM607 852h1v1h-1zM646 852h1v1h-1zM608 853h1v1h-1zM645 853h1v1h-1zM609 854h1v1h-1zM644 854h1v1h-1zM610 855h1v1h-1zM643 855h1v1h-1zM611 856h2v1h-2zM643 856h1v1h-1zM613 857h1v1h-1zM642 857h1v1h-1zM614 858h1v1h-1zM641 858h1v1h-1zM615 859h2v1h-2zM640 859h1v1h-1zM617 860h2v1h-2zM635 860h5v1h-5zM619 861h3v1h-3zM627 861h8v1h-8zM622 862h5v1h-5z" fill="#000"/><rect x="0" y="0" width="845" height="15" fill="#EAEAF2"/><rect x="0" y="15" width="845" height="1" fill="#EFEFF6"/><rect x="0" y="16" width="845" height="1" fill="#D6D7E1"/><rect x="62" y="0" width="1" height="15" fill="#F5F5FA"/><rect x="63" y="0" width="1" height="16" fill="#CDCDD8"/><rect x="133" y="0" width="1" height="15" fill="#F5F5FA"/><rect x="134" y="0" width="1" height="16" fill="#CDCDD8"/><rect x="201" y="0" width="1" height="15" fill="#F5F5FA"/><rect x="202" y="0" width="1" height="16" fill="#CDCDD8"/><rect x="247" y="0" width="1" height="15" fill="#F5F5FA"/><rect x="248" y="0" width="1" height="16" fill="#CDCDD8"/><rect x="294" y="0" width="1" height="15" fill="#F5F5FA"/><rect x="295" y="0" width="1" height="16" fill="#CDCDD8"/><rect x="341" y="0" width="1" height="15" fill="#F5F5FA"/><rect x="342" y="0" width="1" height="16" fill="#CDCDD8"/><rect x="388" y="0" width="1" height="15" fill="#F5F5FA"/><rect x="389" y="0" width="1" height="16" fill="#CDCDD8"/><rect x="416" y="0" width="1" height="15" fill="#F5F5FA"/><rect x="417" y="0" width="1" height="16" fill="#CDCDD8"/><rect x="444" y="0" width="1" height="15" fill="#F5F5FA"/><rect x="445" y="0" width="1" height="16" fill="#CDCDD8"/><rect x="472" y="0" width="1" height="15" fill="#F5F5FA"/><rect x="473" y="0" width="1" height="16" fill="#CDCDD8"/><rect x="500" y="0" width="1" height="15" fill="#F5F5FA"/><rect x="501" y="0" width="1" height="16" fill="#CDCDD8"/><rect x="528" y="0" width="1" height="15" fill="#F5F5FA"/><rect x="529" y="0" width="1" height="16" fill="#CDCDD8"/><rect x="556" y="0" width="1" height="15" fill="#F5F5FA"/><rect x="557" y="0" width="1" height="16" fill="#CDCDD8"/><rect x="584" y="0" width="1" height="15" fill="#F5F5FA"/><rect x="585" y="0" width="1" height="16" fill="#CDCDD8"/><rect x="612" y="0" width="1" height="15" fill="#F5F5FA"/><rect x="613" y="0" width="1" height="16" fill="#CDCDD8"/><rect x="640" y="0" width="1" height="15" fill="#F5F5FA"/><rect x="641" y="0" width="1" height="16" fill="#CDCDD8"/><rect x="668" y="0" width="1" height="15" fill="#F5F5FA"/><rect x="669" y="0" width="1" height="16" fill="#CDCDD8"/><rect x="739" y="0" width="1" height="15" fill="#F5F5FA"/><rect x="740" y="0" width="1" height="16" fill="#CDCDD8"/><rect x="767" y="0" width="1" height="15" fill="#F5F5FA"/><rect x="768" y="0" width="1" height="16" fill="#CDCDD8"/><rect x="813" y="0" width="1" height="15" fill="#F5F5FA"/><rect x="814" y="0" width="1" height="16" fill="#CDCDD8"/><line x1="207.5" y1="919" x2="207.5" y2="925" stroke="#C9D0DA"/><line x1="391.5" y1="919" x2="391.5" y2="925" stroke="#C9D0DA"/><line x1="551.5" y1="919" x2="551.5" y2="925" stroke="#C9D0DA"/><line x1="92" y1="935.5" x2="518" y2="935.5" stroke="#E6EAF0"/><rect x="12" y="918" width="70" height="1" fill="#C9D3E0"/><rect x="12" y="937" width="70" height="1" fill="#C9D3E0"/><rect x="12" y="918" width="1" height="20" fill="#C9D3E0"/><rect x="81" y="918" width="1" height="20" fill="#C9D3E0"/><line x1="12" y1="938.5" x2="845" y2="938.5" stroke="#C9D3E0"/><rect x="0" y="953" width="845" height="1" fill="#C5CAD4"/><rect x="0" y="954" width="845" height="1" fill="#E4E7EC"/><rect x="12" y="938" width="39" height="15" fill="#FF6600"/><line x1="91.5" y1="939" x2="91.5" y2="953" stroke="#C9D3E0"/><line x1="149.5" y1="939" x2="149.5" y2="953" stroke="#C9D3E0"/><line x1="177.5" y1="939" x2="177.5" y2="953" stroke="#C9D3E0"/><line x1="217.5" y1="939" x2="217.5" y2="953" stroke="#C9D3E0"/><line x1="257.5" y1="939" x2="257.5" y2="953" stroke="#C9D3E0"/><line x1="291.5" y1="939" x2="291.5" y2="953" stroke="#C9D3E0"/><line x1="331.5" y1="939" x2="331.5" y2="953" stroke="#C9D3E0"/><line x1="365.5" y1="939" x2="365.5" y2="953" stroke="#C9D3E0"/><line x1="399.5" y1="939" x2="399.5" y2="953" stroke="#C9D3E0"/><line x1="439.5" y1="939" x2="439.5" y2="953" stroke="#C9D3E0"/><line x1="473.5" y1="939" x2="473.5" y2="953" stroke="#C9D3E0"/><line x1="501.5" y1="939" x2="501.5" y2="953" stroke="#C9D3E0"/><line x1="535.5" y1="939" x2="535.5" y2="953" stroke="#C9D3E0"/><line x1="575.5" y1="939" x2="575.5" y2="953" stroke="#C9D3E0"/><rect x="734" y="955" width="111" height="9" fill="#B5B5BA"/><rect x="0" y="963" width="845" height="1" fill="#D3D7DF"/><rect x="38" y="964" width="1" height="8" fill="#C9CED8"/></svg>
<svg width="845" height="972" viewBox="0 0 845 972"><path d="M6.2 2.4 L11.6 -3 L11.6 0 C16.5 0 19.9 2.4 19.9 8.2 C18.4 5.2 15.8 4.3 11.6 4.3 L11.6 7.4 Z" fill="#3A424C"/><text x="22.2" y="8" font-size="13" fill="#484D56" letter-spacing="-0.4">返回</text><path d="M76.8 3.6 L83.6 -3 L90.4 3.6 L89.6 4.4 L88.2 3.1 L88.2 9.6 L84.9 9.6 L84.9 5.8 L82.6 5.8 L82.6 9.6 L79 9.6 L79 3.1 L77.6 4.4 Z" fill="#3A424C"/><text x="94.2" y="8" font-size="13" fill="#484D56" letter-spacing="-0.6">首页</text><path d="M172.0 9.0 A7.1 7.1 0 1 1 174.5 3.2" fill="none" stroke="#3A424C" stroke-width="1.4"/><path d="M171.6 3.0 L177.4 3.0 L174.5 6.9 Z" fill="#3A424C"/><path d="M215 10.8 V7.2 L218 4.6 V10.8 Z M220 10.8 V2.6 L223 3.4 V10.8 Z M225 10.8 V4.6 L228 2.6 V10.8 Z M230 10.8 V-1 H233 V10.8 Z" fill="#3A424C"/><path d="M215 4.6 L220.6 -0.6 M223.6 -0.8 L226 1.8 L228.4 -0.8" fill="none" stroke="#3A424C" stroke-width="1.1"/><path d="M262.7 -2 V6.8 M268.2 -2 V10.7 M273.7 -2 V9.5 M279.0 -2 V9.5" fill="none" stroke="#3A424C" stroke-width="1.2"/><path d="M260.9 1.2 h3.6 v4.4 l-1.8 1.2 l-1.8 -1.2Z M266.6 -2 h3.2 v7 h-3.2Z M271.9 3 h3.5 v3.5 h-3.5Z M277.2 2.1 h3.6 v3.8 h-3.6Z" fill="#3A424C"/><text x="362" y="8" font-size="13" fill="#484D56">日</text><text x="563.6" y="8" font-size="13" fill="#484D56">日</text><text x="591.8" y="8" font-size="13" fill="#484D56">周</text><text x="619.6" y="8" font-size="13" fill="#484D56">月</text><text x="647.8" y="8" font-size="13" fill="#484D56">年</text><rect x="683.1" y="2.6" width="14" height="2.5" rx="1.2" fill="#3A424C"/><rect x="683.1" y="7.3" width="14" height="2.6" rx="1.2" fill="#3A424C"/><text x="700.2" y="8.4" font-size="13" fill="#484D56" letter-spacing="-0.4">更多</text><path d="M755.2 -1.5 C752.4 -1.8 751.2 -0.6 751.2 1.6 L751.2 7.6 C751.2 9.2 750.2 9.8 748.6 9.4 L746.0 8.6" stroke="#3A424C" stroke-width="2.2" fill="none"/><path d="M747.2 2.8 H754.4" stroke="#3A424C" stroke-width="1.6" fill="none"/><path d="M755.0 3.4 L760.8 9.8 M760.8 3.4 L755.0 9.8" stroke="#3A424C" stroke-width="2.0" fill="none"/><circle cx="791.5" cy="2.0" r="6.4" fill="none" stroke="#3A424C" stroke-width="1.2"/><path d="M788 2.0 H795 M796 6.8 L800 10.6" stroke="#3A424C" stroke-width="1.2" fill="none"/><circle cx="838" cy="2.0" r="6.4" fill="none" stroke="#3A424C" stroke-width="1.2"/><path d="M834.5 2.0 H841.5 M838 -2 V5.5 M842.6 6.8 L846 10.2" stroke="#3A424C" stroke-width="1.2" fill="none"/><g fill="#1E2230" font-size="12.4"><text x="-4.4" y="34.8">分</text><text x="-4.4" y="49.2">时</text><text x="-4.4" y="63.6">图</text></g><g fill="#fff" font-size="12.4"><text x="-4.4" y="98.2">线</text><text x="-4.4" y="112.4">图</text></g><g fill="#1E2230" font-size="12.4"><text x="-4.4" y="132.6">闪</text><text x="-4.4" y="146.8">电</text><text x="-4.4" y="161">图</text></g><g fill="#1E2230" font-size="12.4"><text x="-4.4" y="184.2">合</text><text x="-4.4" y="198.4">约</text><text x="-4.4" y="212.6">资</text><text x="-4.4" y="226.8">料</text></g><text x="84.4" y="31" font-size="12" font-weight="500" fill="#000">美元加元</text><text x="132.4" y="31" font-size="12" font-weight="500" fill="#FF7F00">【日线】</text><circle cx="185.2" cy="27.5" r="3.9" fill="none" stroke="#FF7F00" stroke-width="0.9"/><path d="M181.3 27.5 H189.1 M185.2 23.6 V31.4" stroke="#FF7F00" stroke-width="0.9" fill="none"/><rect x="198.9" y="19.4" width="10.8" height="12.2" rx="1.4" fill="#303040"/><rect x="198.1" y="18.6" width="10.6" height="12" rx="1.4" fill="#fff" stroke="#00007C" stroke-width="1.2"/><path d="M199.4 26.0 L202.0 22.6 L204.4 25.4 L207.8 21.2" stroke="#E02020" stroke-width="1.1" fill="none"/><path d="M199.4 29.0 L202.0 25.8 L204.4 28.4 L207.8 24.6" stroke="#2030D0" stroke-width="1.1" fill="none"/><circle cx="21" cy="670" r="3.3" fill="#fff" stroke="#000" stroke-width="0.9"/><circle cx="21" cy="670" r="1.9" fill="#FF0000"/><path d="M21 663.4 V665.4 M21 674.6 V676.6 M14.4 670 H16.4 M25.6 670 H27.6 M16.3 665.3 L17.7 666.7 M24.3 673.3 L25.7 674.7 M25.7 665.3 L24.3 666.7 M17.7 673.3 L16.3 674.7" stroke="#FF0000" stroke-width="1" fill="none"/><text x="26.4" y="934" font-size="12.4" font-weight="bold" fill="#FF7F00">日线</text><path d="M56.6 933 L60.7 925.6 L64.8 933 Z" fill="#FF7F00"/><text x="19.8" y="950.6" font-size="12" fill="#fff">指标</text><text x="59.6" y="950.6" font-size="12" fill="#222">模板</text><text x="118.6" y="950.6" font-size="12" fill="#FF7F00">指标</text><text x="543.6" y="950.6" font-size="12" fill="#222">设置</text><path d="M812 962.4 L823.5 956.6 L835 962.4 Z" fill="#686868"/><text x="4.6" y="977.6" font-size="12" fill="#333">资讯</text></svg>
<div class="t" style="right:767px;top:30px;font-size:12px;color:#333;text-align:right;">1.4360</div><div class="t" style="right:767px;top:86px;font-size:12px;color:#333;text-align:right;">1.4280</div><div class="t" style="right:767px;top:143px;font-size:12px;color:#333;text-align:right;">1.4200</div><div class="t" style="right:767px;top:200px;font-size:12px;color:#333;text-align:right;">1.4120</div><div class="t" style="right:767px;top:256px;font-size:12px;color:#333;text-align:right;">1.4041</div><div class="t" style="right:767px;top:313px;font-size:12px;color:#333;text-align:right;">1.3961</div><div class="t" style="right:767px;top:370px;font-size:12px;color:#333;text-align:right;">1.3881</div><div class="t" style="right:767px;top:426px;font-size:12px;color:#333;text-align:right;">1.3801</div><div class="t" style="right:767px;top:483px;font-size:12px;color:#333;text-align:right;">1.3721</div><div class="t" style="right:767px;top:540px;font-size:12px;color:#333;text-align:right;">1.3641</div><div class="t" style="right:767px;top:597px;font-size:12px;color:#333;text-align:right;">1.3561</div><div class="t" style="right:767px;top:676px;font-size:12px;color:#333;text-align:right;">0.0048</div><div class="t" style="right:767px;top:699px;font-size:12px;color:#333;text-align:right;">0.0036</div><div class="t" style="right:767px;top:722px;font-size:12px;color:#333;text-align:right;">0.0024</div><div class="t" style="right:767px;top:746px;font-size:12px;color:#333;text-align:right;">0.0012</div><div class="t" style="right:767px;top:769px;font-size:12px;color:#333;text-align:right;">-0.0000</div><div class="t" style="right:767px;top:793px;font-size:12px;color:#333;text-align:right;">-0.0012</div><div class="t" style="right:767px;top:816px;font-size:12px;color:#333;text-align:right;">-0.0024</div><div class="t" style="right:767px;top:839px;font-size:12px;color:#333;text-align:right;">-0.0036</div><div class="t" style="right:767px;top:863px;font-size:12px;color:#333;text-align:right;">-0.0049</div><div class="t" style="right:767px;top:886px;font-size:12px;color:#333;text-align:right;">-0.0061</div><div class="t" style="left:305.3px;top:-5.05325px;font-size:16.5px;color:#484D56;">tick</div><div class="t" style="left:354.6px;top:-4.627px;font-size:14px;color:#484D56;">5</div><div class="t" style="left:398.6px;top:-4.627px;font-size:14px;color:#484D56;">5</div><div class="t" style="left:422.6px;top:-4.627px;font-size:14px;color:#484D56;letter-spacing:-0.6px;">15</div><div class="t" style="left:450.8px;top:-4.627px;font-size:14px;color:#484D56;letter-spacing:-0.6px;">30</div><div class="t" style="left:478.8px;top:-4.627px;font-size:14px;color:#484D56;letter-spacing:-0.6px;">60</div><div class="t" style="left:506.2px;top:-4.627px;font-size:14px;color:#484D56;letter-spacing:-0.8px;">2H</div><div class="t" style="left:534.2px;top:-4.627px;font-size:14px;color:#484D56;letter-spacing:-0.8px;">4H</div><div class="t" style="left:-3.2px;top:70.5px;font-size:12px;color:#fff;font-weight:bold;font-family:'Liberation Serif',monospace;">K</div><div class="t" style="left:212px;top:17.5px;font-size:12px;color:#111;letter-spacing:0.2px;">MA1(50,0,200,0)</div><div class="t" style="left:310.4px;top:17.5px;font-size:12px;color:#111;letter-spacing:0.2px;">MA50:1.3963</div><div class="t" style="left:392px;top:17.5px;font-size:12px;color:#00008B;letter-spacing:0.25px;">MA0:1.3734</div><div class="t" style="left:468px;top:17.5px;font-size:12px;color:#FF00FF;letter-spacing:0.25px;">MA200:1.3875</div><div class="t" style="left:558px;top:17.5px;font-size:12px;color:#FF7F00;letter-spacing:0.3px;">MA0:1.3734</div><div class="t" style="left:412.4px;top:179.5px;font-size:12px;color:#D2524A;font-weight:bold;letter-spacing:0.2px;">1.4139</div><div class="t" style="left:644.4px;top:486.6px;font-size:12px;color:#6BAE62;font-weight:bold;letter-spacing:0.15px;">1.3729</div><div class="t" style="left:84.4px;top:665px;font-size:12px;color:#111;letter-spacing:0.1px;">MACD(13,8,9)</div><div class="t" style="left:167.4px;top:665px;font-size:12px;color:#111;">DIFF:-0.0029</div><div class="t" style="left:246px;top:665px;font-size:12px;color:#00008B;">DEA:-0.0032</div><div class="t" style="left:324px;top:665px;font-size:12px;color:#FF00FF;letter-spacing:0.2px;">MACD:0.0006</div><div class="t" style="left:209.4px;top:918.6px;font-size:12px;color:#1A1F33;font-weight:bold;letter-spacing:0.28px;">2025/10</div><div class="t" style="left:393.4px;top:918.6px;font-size:12px;color:#1A1F33;font-weight:bold;letter-spacing:0.28px;">2025/11</div><div class="t" style="left:553.4px;top:918.6px;font-size:12px;color:#1A1F33;font-weight:bold;letter-spacing:0.28px;">2025/12</div><div class="t" style="left:100.2px;top:939.9px;font-size:10px;color:#FF7F00;font-family:'Liberation Mono',monospace;transform:scaleY(1.06);transform-origin:0 50%;">VIP</div><div class="t" style="left:157.2px;top:939.9px;font-size:10px;color:#222;font-family:'Liberation Mono',monospace;transform:scaleY(1.06);transform-origin:0 50%;">MA</div><div class="t" style="left:185.2px;top:939.9px;font-size:10px;color:#222;font-family:'Liberation Mono',monospace;transform:scaleY(1.06);transform-origin:0 50%;">MACD</div><div class="t" style="left:225.2px;top:939.9px;font-size:10px;color:#222;font-family:'Liberation Mono',monospace;transform:scaleY(1.06);transform-origin:0 50%;">BOLL</div><div class="t" style="left:265.4px;top:939.9px;font-size:10px;color:#222;font-family:'Liberation Mono',monospace;transform:scaleY(1.06);transform-origin:0 50%;">VOL</div><div class="t" style="left:299.2px;top:939.9px;font-size:10px;color:#222;font-family:'Liberation Mono',monospace;transform:scaleY(1.06);transform-origin:0 50%;">BIAS</div><div class="t" style="left:339.4px;top:939.9px;font-size:10px;color:#222;font-family:'Liberation Mono',monospace;transform:scaleY(1.06);transform-origin:0 50%;">CCI</div><div class="t" style="left:373.4px;top:939.9px;font-size:10px;color:#222;font-family:'Liberation Mono',monospace;transform:scaleY(1.06);transform-origin:0 50%;">KDJ</div><div class="t" style="left:407.4px;top:939.9px;font-size:10px;color:#222;font-family:'Liberation Mono',monospace;transform:scaleY(1.06);transform-origin:0 50%;">LW&amp;</div><div class="t" style="left:447.4px;top:939.9px;font-size:10px;color:#222;font-family:'Liberation Mono',monospace;transform:scaleY(1.06);transform-origin:0 50%;">RSI</div><div class="t" style="left:481.4px;top:939.9px;font-size:10px;color:#222;font-family:'Liberation Mono',monospace;transform:scaleY(1.06);transform-origin:0 50%;">CR</div><div class="t" style="left:509.4px;top:939.9px;font-size:10px;color:#222;font-family:'Liberation Mono',monospace;transform:scaleY(1.06);transform-origin:0 50%;">PSY</div><div class="t" style="left:716.0px;top:919.4px;font-size:28.6px;line-height:32px;height:32px;color:#D6E4F8;letter-spacing:3.0px;-webkit-text-stroke:0.5px #D6E4F8;text-shadow:1px 1px 1px #BBA58E;">FX678</div>
</body></html>
